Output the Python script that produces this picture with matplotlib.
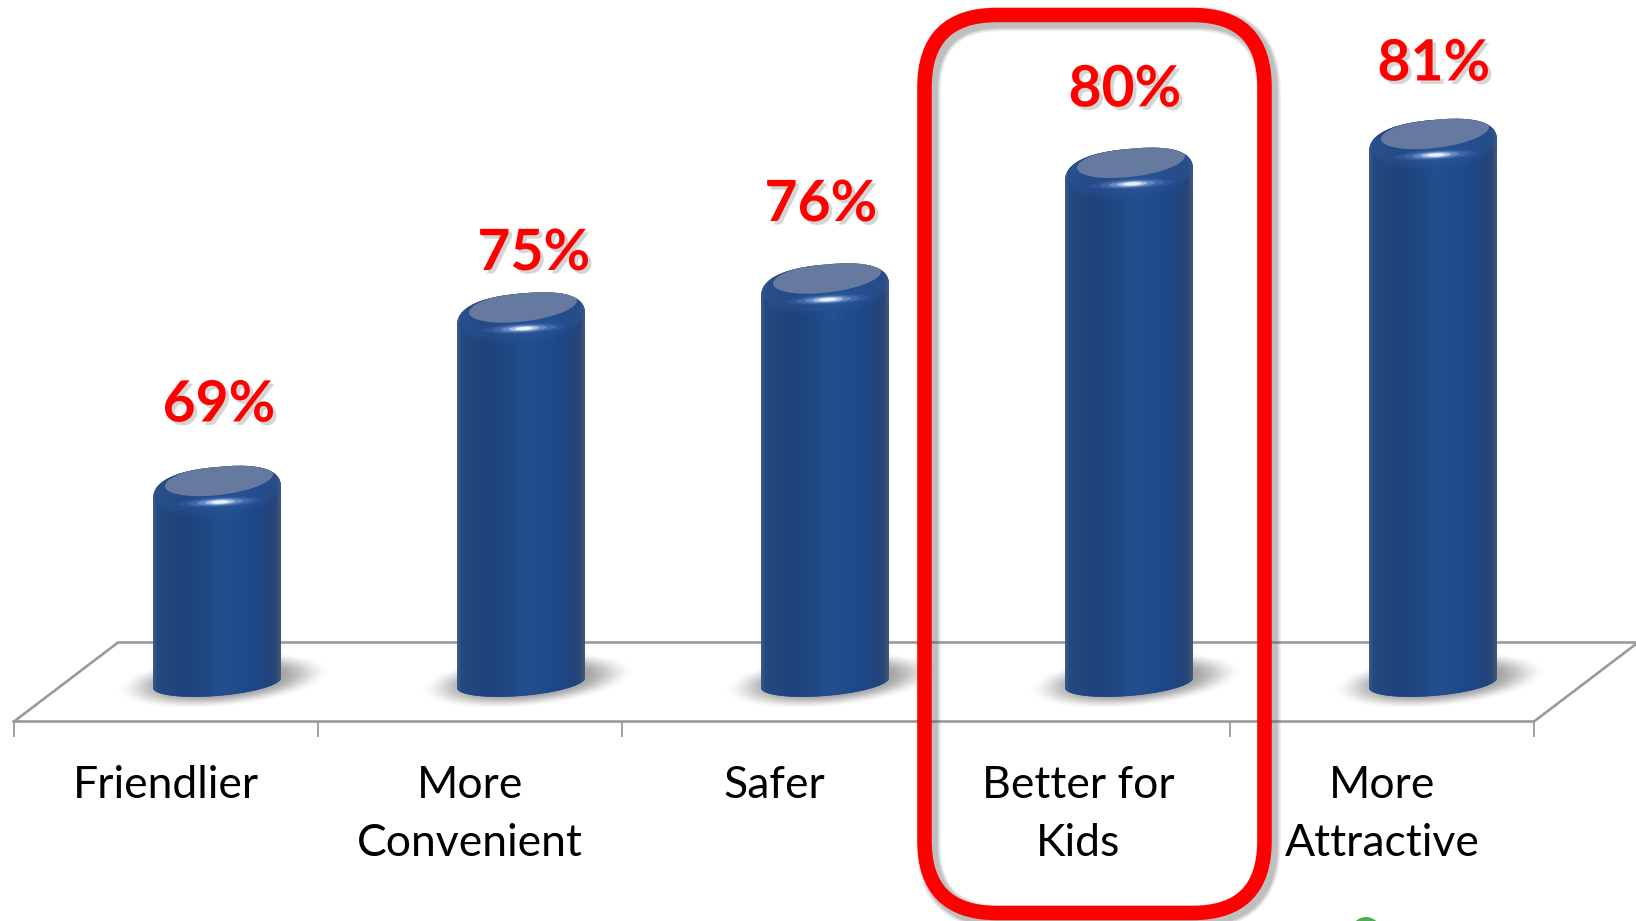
import numpy as np
import matplotlib
matplotlib.use("Agg")
import matplotlib.pyplot as plt
import matplotlib.patheffects as pe
from matplotlib.colors import to_rgb
from matplotlib.patches import FancyBboxPatch, PathPatch, Ellipse
from matplotlib.path import Path
from matplotlib.transforms import Affine2D

categories = ["Friendlier", "More\nConvenient", "Safer", "Better for\nKids", "More\nAttractive"]
values = [69, 75, 76, 80, 81]
value_labels = ["69%", "75%", "76%", "80%", "81%"]

W, H = 1636, 921
STEP = 304.0
X0 = 166.0
PX_PER_PCT = 28.92
TOP_69 = 467.0
BASE_VALUE = 61.05
DEPTH_X, DEPTH_Y = 104, 79
FRONT_Y, TICK_Y = 721.5, 736
BAR_W = 128
# value label centre, pixels from the bar's top centre
LABEL_OFF = [(2, -67), (13, -45), (-4, -65), (-4, -64), (1, -61)]

plt.rcParams["font.family"] = ["Lato", "DejaVu Sans"]

fig = plt.figure(figsize=(W / 100, H / 100), dpi=100, facecolor="white")
ax = fig.add_axes([0, 0, 1, 1])
ax.set_xlim(-X0 / STEP, (W - X0) / STEP)
ax.set_ylim(69 - (H - TOP_69) / PX_PER_PCT, 69 + TOP_69 / PX_PER_PCT)
ax.autoscale(False)
ax.axis("off")

# pixel space, y down
px = Affine2D().scale(1, -1).translate(0, H)


def to_px(x, y):
    p = ax.transData.transform((x, y))
    return p[0], H - p[1]


def ellipse_pts(cx, cy, a, b, rise, t0=0, t1=2 * np.pi, n=90, power=1.0):
    # sheared ellipse, power < 1 squares it off a little
    t = np.linspace(t0, t1, n)
    c = np.sign(np.cos(t)) * np.abs(np.cos(t)) ** power
    s = np.sign(np.sin(t)) * np.abs(np.sin(t)) ** power
    return np.column_stack([cx + a * c, cy + b * s - rise * c])


def px_poly(pts, **kw):
    return PathPatch(Path(np.vstack([pts, pts[:1]])), transform=px, **kw)


# floor of the 3d chart
floor_col = "#9a9a9a"
x_left = to_px(-0.5, 0)[0]
x_right = to_px(4.5, 0)[0]
floor_x = [x_left, x_right, x_right + DEPTH_X, x_left + DEPTH_X, x_left]
floor_y = [FRONT_Y, FRONT_Y, FRONT_Y - DEPTH_Y, FRONT_Y - DEPTH_Y, FRONT_Y]
ax.plot(floor_x, floor_y, color=floor_col, lw=1.9, transform=px, zorder=1, solid_joinstyle="miter")
for i in range(6):
    tx = to_px(i - 0.5, 0)[0]
    ax.plot([tx, tx], [FRONT_Y, TICK_Y], color=floor_col, lw=1.3, transform=px, zorder=1)

stops = [0, 0.03, 0.25, 0.55, 0.8, 0.96, 1]
cols = np.array([to_rgb(c) for c in ["#3a5a8a", "#264a80", "#1d4179", "#23508f", "#1e4788", "#264576", "#3d5884"]])
grad = np.array([[np.interp(s, stops, cols[:, j]) for j in range(3)] for s in np.linspace(0, 1, 128)])[None, :, :]

shift = (DEPTH_X / 2 - 1) / STEP
xs = np.arange(len(values)) + shift
bars = ax.bar(xs, np.array(values) - BASE_VALUE, bottom=BASE_VALUE, width=BAR_W / STEP,
              color="#1f4788", zorder=3)

for bar, val, lab, off in zip(bars, values, value_labels, LABEL_OFF):
    cx, top = to_px(bar.get_x() + bar.get_width() / 2, val)
    _, bottom = to_px(bar.get_x(), BASE_VALUE)
    a = BAR_W / 2

    # soft floor shadow
    gx, gy = np.meshgrid(np.arange(-120, 125), np.arange(-45, 45))
    r = np.sqrt((gx / 108.0) ** 2 + ((gy + 0.09 * gx) / 27.0) ** 2)
    al = np.clip((1 - r) / 0.5, 0, 1)
    sh = np.zeros(gx.shape + (4,))
    sh[..., :3] = 0.42
    sh[..., 3] = 0.62 * al * al * (3 - 2 * al)
    sx, sy = cx + 6, bottom - 17
    ax.imshow(sh, extent=(sx - 120, sx + 125, sy + 45, sy - 45), transform=px, aspect="auto",
              interpolation="bilinear", zorder=2)

    # cylinder outline, clips the bar and its shading
    upper = ellipse_pts(cx, top + 27, a, 27, 6, np.pi, 2 * np.pi, power=0.8)
    lower = ellipse_pts(cx, bottom - 14, a, 13, 5, 0, np.pi)
    body = px_poly(np.vstack([upper, lower]), fc="none", ec="none")
    ax.add_patch(body)
    bar.set_clip_path(body)
    im = ax.imshow(grad, extent=(cx - a, cx + a, bottom + 2, top - 2), transform=px, aspect="auto",
                   interpolation="bilinear", zorder=4)
    im.set_clip_path(body)

    # rim fades into the body, then top face and highlight
    for rb, ra in [(30, 0.12), (27, 0.16), (24, 0.22)]:
        rim = px_poly(ellipse_pts(cx + 1, top + 20, a - 1, rb, 5, power=0.85), fc="#2f5a9e", ec="none",
                      alpha=ra, zorder=5)
        ax.add_patch(rim)
        rim.set_clip_path(body)
    face = px_poly(ellipse_pts(cx + 2, top + 13, 54, 15, 6), fc="#66799e", ec="none", zorder=6)
    ax.add_patch(face)
    face.set_clip_path(body)
    tilt = Affine2D().rotate_deg_around(cx + 3, top + 35, -3) + px
    for hw, hh, hc, ha in [(42, 5, "#4a72b4", 0.25), (32, 4, "#6b93cf", 0.3), (23, 3.2, "#9fbbe6", 0.4),
                           (15, 2.4, "#d5e3f8", 0.6), (9, 1.6, "#ffffff", 0.8)]:
        ax.add_patch(Ellipse((cx + 3, top + 35), 2 * hw, 2 * hh, transform=tilt, fc=hc, ec="none", alpha=ha, zorder=7))

    # value label with a soft shadow
    ax.text(cx + off[0], top + off[1], lab, transform=px, ha="center", va="center_baseline", color="#ff0000",
            fontsize=41, fontweight="bold", zorder=8,
            path_effects=[pe.SimplePatchShadow(offset=(2.5, -2.5), shadow_rgbFace="#777777", alpha=0.3),
                          pe.Normal()])

for i, cat in enumerate(categories):
    lx = to_px(i, 0)[0]
    ax.text(lx, 765, cat, transform=px, ha="center", va="top", fontsize=32, color="black",
            linespacing=1.5, zorder=8)

# highlight box round "Better for Kids"
box = (924.5, 15, 340, 898)
rad = 72
for grow, alpha in [(10, 0.10), (7, 0.14), (4, 0.18)]:
    ax.add_patch(FancyBboxPatch((box[0] + rad + 4, box[1] + rad + 4), box[2] - 2 * rad, box[3] - 2 * rad,
                                boxstyle=f"round,pad={rad},rounding_size={rad}", transform=px, fc="none",
                                ec="#555555", lw=(14.5 + grow) / 1.389, alpha=alpha, zorder=9))
ax.add_patch(FancyBboxPatch((box[0] + rad, box[1] + rad), box[2] - 2 * rad, box[3] - 2 * rad,
                            boxstyle=f"round,pad={rad},rounding_size={rad}", transform=px, fc="none",
                            ec="#ff0000", lw=14.5 / 1.389, zorder=10))

# bit of a green mark cut off by the bottom edge
ax.add_patch(Ellipse((1366, 932), 30, 30, transform=px, fc="#4caf50", ec="none", zorder=8))

fig.savefig("out.png", dpi=100, facecolor="white")
